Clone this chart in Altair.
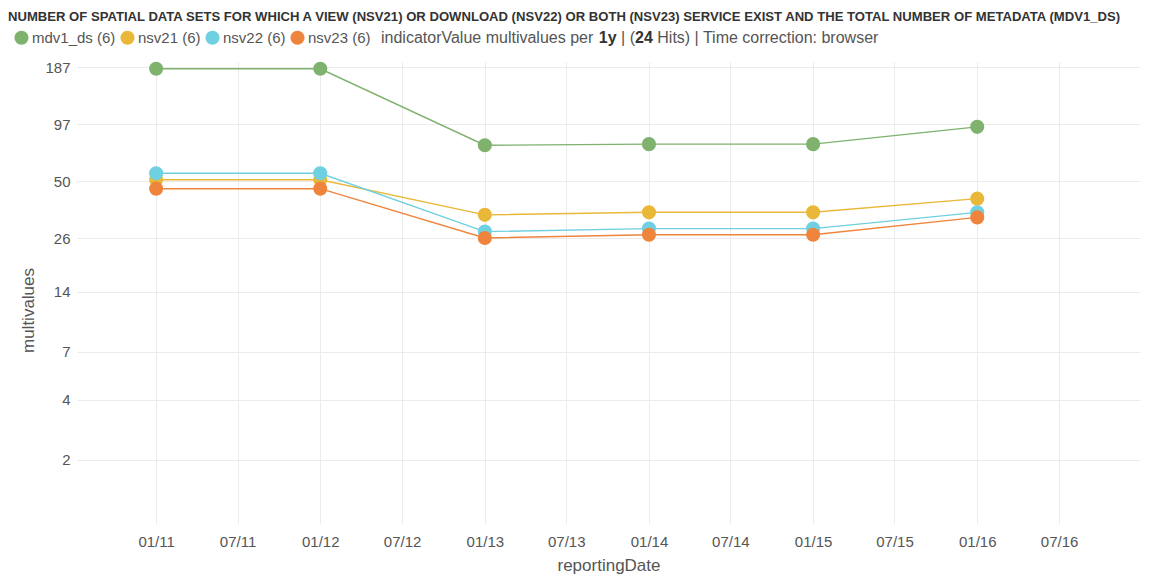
import altair as alt
import pandas as pd

# ---------------- data ----------------
series = ["mdv1_ds", "nsv21", "nsv22", "nsv23"]
dates = ["2011-01-01", "2012-01-01", "2013-01-01", "2014-01-01", "2015-01-01", "2016-01-01"]
mdv1_ds = [184, 184, 76, 77, 77, 94]
nsv21 = [51, 51, 34, 35, 35, 41]
nsv22 = [55, 55, 28, 29, 29, 35]
nsv23 = [46, 46, 26, 27, 27, 33]
colors = ["#7EB26D", "#EAB839", "#6ED0E0", "#EF843C"]
y_ticks = [2, 4, 7, 14, 26, 50, 97, 187]
x_tick_years = [2011, 2012, 2013, 2014, 2015, 2016]

title_text = ("NUMBER OF SPATIAL DATA SETS FOR WHICH A VIEW (NSV21) OR DOWNLOAD (NSV22) OR BOTH (NSV23) "
              "SERVICE EXIST AND THE TOTAL NUMBER OF METADATA (MDV1_DS)")
info_segments = [("indicatorValue multivalues per ", False), ("1y", True), (" | (", False),
                 ("24", True), (" Hits) | Time correction: browser", False)]

values_by_series = {"mdv1_ds": mdv1_ds, "nsv21": nsv21, "nsv22": nsv22, "nsv23": nsv23}
rows = []
for s in series:
    for d, v in zip(dates, values_by_series[s]):
        rows.append({"series": s, "reportingDate": d, "multivalues": v})
df = pd.DataFrame(rows)

FONT = "Liberation Sans"
GRID = "#ebebeb"
TXT = "#555555"

# Arial / Liberation Sans advance widths (per 1000 em) for the info line
W_REG = {" ": 278, "(": 333, ")": 333, "|": 260, ":": 278, "a": 556, "b": 556, "c": 500, "d": 556,
         "e": 556, "i": 222, "l": 222, "m": 833, "n": 556, "o": 556, "p": 556, "r": 333, "s": 500,
         "t": 278, "u": 556, "v": 500, "w": 722, "y": 500, "H": 722, "T": 611, "V": 667}
W_BOLD = {"1": 556, "y": 556, "2": 556, "4": 556}
INFO_SIZE = 16

def seg_width(text, bold):
    tbl = W_BOLD if bold else W_REG
    return sum(tbl.get(ch, 556) for ch in text) * INFO_SIZE / 1000.0

x_scale = alt.Scale(
    type="utc",
    domain=[alt.DateTime(year=2010, month=7, date=9, utc=True),
            alt.DateTime(year=2016, month=12, date=28, utc=True)],
    nice=False,
)
tick_dates = []
for yr in x_tick_years:
    tick_dates.append(alt.DateTime(year=yr, month=1, date=1, utc=True))
    tick_dates.append(alt.DateTime(year=yr, month=7, date=1, utc=True))

base = alt.Chart(df).encode(
    x=alt.X("reportingDate:T", scale=x_scale,
            axis=alt.Axis(values=tick_dates, format="%m/%y", labelFontSize=15, labelPadding=10,
                          title="reportingDate", titleFontSize=17, titlePadding=8,
                          labelFlush=False)),
    y=alt.Y("multivalues:Q",
            scale=alt.Scale(type="log", domain=[0.953, 199], nice=False),
            axis=alt.Axis(values=y_ticks, format="d", labelFontSize=15, labelPadding=7,
                          title="multivalues", titleFontSize=17, titleX=-49, titleY=248,
                          titleAngle=270, titleAlign="center", titleBaseline="middle")),
    color=alt.Color("series:N", scale=alt.Scale(domain=series, range=colors),
                    legend=alt.Legend(orient="none", legendX=-63, legendY=-32, direction="horizontal",
                                      title=None, symbolType="circle", symbolSize=200,
                                      symbolStrokeWidth=0, labelFontSize=15, labelFont=FONT,
                                      labelColor=TXT, labelOffset=3, columnPadding=4, padding=0,
                                      labelExpr="datum.label + ' (6)'")),
)

lines = base.mark_line(strokeWidth=1.4)
points = base.mark_point(filled=True, size=200, opacity=1, strokeWidth=0)

layers = [lines, points]
x0 = 304
for text, bold in info_segments:
    lead = len(text) - len(text.lstrip(" "))
    x0 += seg_width(" " * lead, bold)
    core = text.strip(" ")
    layers.append(
        alt.Chart(pd.DataFrame({"t": [core]})).mark_text(
            align="left", baseline="middle", fontSize=INFO_SIZE, font=FONT,
            fontWeight="bold" if bold else "normal", color="#333333" if bold else TXT
        ).encode(text="t:N", x=alt.value(x0), y=alt.value(-24))
    )
    x0 += seg_width(text.lstrip(" "), bold)

chart = alt.layer(*layers).properties(
    width=1063, height=462,
    autosize=alt.AutoSizeParams(type="none"),
    padding={"left": 69, "top": 54, "right": 1, "bottom": 53},
    title=alt.Title(title_text, anchor="start", frame="group", dx=-69, fontSize=13.1, font=FONT,
                    fontWeight="bold", color="#333333", offset=6),
).configure_axis(
    gridColor=GRID, domain=False, ticks=False, labelColor=TXT, titleColor=TXT,
    labelFont=FONT, titleFont=FONT, titleFontWeight="normal",
).configure_view(stroke=None)

chart.save("out.html", embed_options={"renderer": "svg", "actions": False})
